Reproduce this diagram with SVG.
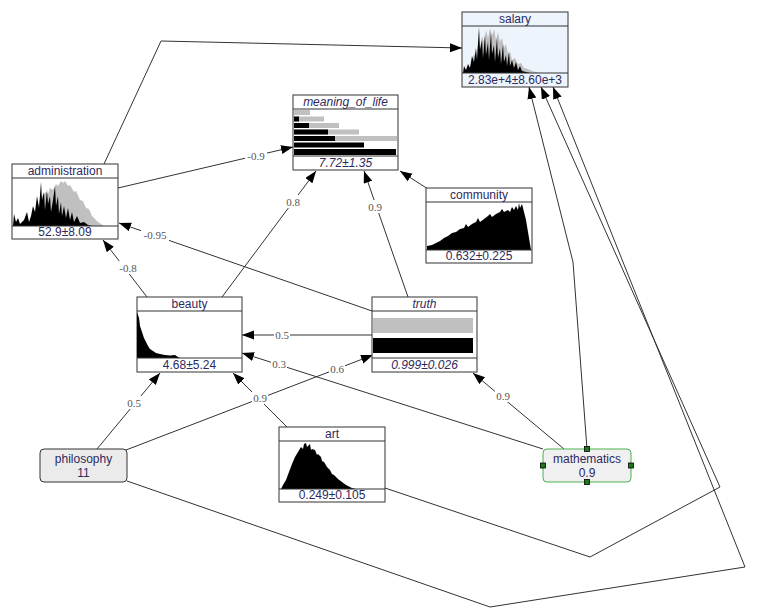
<svg xmlns="http://www.w3.org/2000/svg" width="768" height="608" viewBox="0 0 768 608">
<defs>
<marker id="arr" markerWidth="12" markerHeight="10" refX="12" refY="4.5" orient="auto" markerUnits="userSpaceOnUse">
<path d="M0,0 L12,4.5 L0,9 Z" fill="#000"/>
</marker>
<style>
.box{fill:#fff;stroke:#333;stroke-width:1}
.sep{stroke:#333;stroke-width:1}
.t{font-family:"Liberation Sans",Arial,sans-serif;font-size:12px;fill:#2e2a5c;text-anchor:middle}
.it{font-style:italic}
.e{fill:none;stroke:#333;stroke-width:1;marker-end:url(#arr)}
.el{font-family:"Liberation Serif","Times New Roman",serif;font-size:11px;fill:#555;text-anchor:middle}
.lb{fill:#fff}
.blk{fill:#000}
.gry{fill:#c0c0c0}
.h{fill:#1a7a1a;stroke:#000;stroke-width:0.8}
</style>
</defs>
<rect width="768" height="608" fill="#fff"/>
<g id="connectors">
<path class="e" d="M104,164 L161,41 L462,48"/>
<path class="e" d="M118,188 L293,147"/>
<path class="e" d="M372,311 L119,223"/>
<path class="e" d="M147,297 L103,240"/>
<path class="e" d="M222,297 L316,171"/>
<path class="e" d="M408,297 L364,171"/>
<path class="e" d="M428,189 L400,171"/>
<path class="e" d="M372,335 L242,335"/>
<path class="e" d="M543,449 L242,353"/>
<path class="e" d="M126,450 L373,355"/>
<path class="e" d="M97,449 L160,373"/>
<path class="e" d="M287,427 L233,373"/>
<path class="e" d="M564,449 L473,373"/>
<path class="e" d="M587,449 L573,262 L529,87"/>
<path class="e" d="M385,488 L590,557 L720,487 L541,87"/>
<path class="e" d="M127,481 L490,607 L745,567 L553,87"/>
<g>
<rect class="lb" x="245" y="149" width="22" height="13"/><text class="el" x="256" y="160">-0.9</text>
<rect class="lb" x="141" y="228" width="28" height="13"/><text class="el" x="155" y="239">-0.95</text>
<rect class="lb" x="117" y="261" width="22" height="13"/><text class="el" x="128" y="272">-0.8</text>
<rect class="lb" x="285" y="195" width="16" height="13"/><text class="el" x="293" y="206">0.8</text>
<rect class="lb" x="367" y="200" width="16" height="13"/><text class="el" x="375" y="211">0.9</text>
<rect class="lb" x="274" y="328" width="16" height="13"/><text class="el" x="282" y="339">0.5</text>
<rect class="lb" x="271" y="358" width="16" height="13"/><text class="el" x="279" y="368">0.3</text>
<rect class="lb" x="329" y="362" width="16" height="13"/><text class="el" x="337" y="373">0.6</text>
<rect class="lb" x="126" y="396" width="16" height="13"/><text class="el" x="134" y="407">0.5</text>
<rect class="lb" x="252" y="391" width="16" height="13"/><text class="el" x="260" y="402">0.9</text>
<rect class="lb" x="495" y="389" width="16" height="13"/><text class="el" x="503" y="400">0.9</text>
</g>
</g>
<g id="salary">
<rect x="462" y="12" width="106" height="75" fill="#edf4fc" stroke="#333"/>
<line class="sep" x1="462" y1="26" x2="568" y2="26"/>
<path class="gry" d="M463,73 L468,70 L472,62 L474,54 L476,58 L478,44 L480,48 L482,36 L484,42 L486,30 L488,38 L490,28 L492,36 L494,29 L496,40 L498,32 L500,42 L502,38 L504,48 L506,44 L508,54 L510,52 L512,60 L515,58 L518,64 L521,63 L524,68 L528,69 L532,71 L540,73 Z"/>
<path class="blk" d="M463,73 L464,66 L466,70 L468,64 L470,68 L472,56 L474,62 L476,48 L477,60 L479,27 L480,50 L482,40 L483,58 L485,35 L486,55 L488,42 L489,60 L491,32 L492,54 L494,45 L495,62 L497,38 L498,58 L500,48 L501,64 L503,44 L504,62 L506,55 L507,66 L509,52 L510,66 L512,60 L514,68 L516,62 L518,70 L520,66 L522,71 L526,72 L530,73 Z"/>
<line class="sep" x1="462" y1="73" x2="568" y2="73"/>
<text class="t" x="515" y="23">salary</text>
<text class="t" x="515" y="84">2.83e+4±8.60e+3</text>
</g>
<g id="meaning_of_life">
<rect class="box" x="293" y="95" width="105" height="75"/>
<line class="sep" x1="293" y1="109" x2="398" y2="109"/>
<rect class="gry" x="294" y="110" width="16" height="5"/>
<rect class="gry" x="294" y="116.5" width="30" height="5"/>
<rect class="blk" x="294" y="116.5" width="5" height="5"/>
<rect class="gry" x="294" y="123" width="45" height="5"/>
<rect class="blk" x="294" y="123" width="15" height="5"/>
<rect class="gry" x="294" y="129.5" width="65" height="5"/>
<rect class="blk" x="294" y="129.5" width="34" height="5"/>
<rect class="gry" x="294" y="136" width="103" height="5"/>
<rect class="blk" x="294" y="136" width="41" height="5"/>
<rect class="blk" x="294" y="142.5" width="70" height="5"/>
<rect class="blk" x="294" y="149" width="102" height="6"/>
<line class="sep" x1="293" y1="156" x2="398" y2="156"/>
<text class="t it" x="345.5" y="106">meaning_of_life</text>
<text class="t it" x="345.5" y="167">7.72±1.35</text>
</g>
<g id="administration">
<rect class="box" x="12" y="164" width="106" height="75"/>
<line class="sep" x1="12" y1="178" x2="118" y2="178"/>
<path class="gry" d="M13,226 L30,224 L36,210 L42,196 L46,192 L48,194 L50,188 L53,190 L56,184 L58,186 L61,181 L63,183 L65,181 L68,186 L70,185 L74,192 L76,191 L80,200 L83,201 L86,208 L89,209 L92,216 L98,222 L104,226 Z"/>
<path class="blk" d="M13,226 L14,214 L16,222 L18,218 L20,224 L24,220 L27,212 L29,222 L31,216 L33,206 L35,212 L37,196 L39,208 L41,182 L42,200 L44,192 L45,210 L47,190 L48,204 L50,196 L51,212 L53,200 L55,186 L56,206 L58,196 L59,214 L61,202 L62,216 L64,206 L66,218 L68,208 L70,220 L72,212 L74,222 L77,216 L80,223 L84,222 L88,225 L92,226 Z"/>
<line class="sep" x1="12" y1="226" x2="118" y2="226"/>
<text class="t" x="65" y="175">administration</text>
<text class="t" x="65" y="236">52.9±8.09</text>
</g>
<g id="community">
<rect class="box" x="426" y="188" width="106" height="75"/>
<line class="sep" x1="426" y1="202" x2="532" y2="202"/>
<path class="blk" d="M427,250 L427,246 L432,245 L436,243 L440,241 L444,238 L448,236 L452,233 L456,232 L460,229 L464,228 L466,224 L468,227 L472,224 L476,222 L478,218 L480,222 L484,219 L488,216 L490,214 L492,217 L496,214 L500,212 L502,209 L504,212 L508,210 L510,212 L512,207 L514,210 L516,206 L518,210 L519,203 L520,208 L522,204 L524,212 L526,220 L528,232 L530,244 L531,250 Z"/>
<line class="sep" x1="426" y1="250" x2="532" y2="250"/>
<text class="t" x="479" y="199">community</text>
<text class="t" x="479" y="260">0.632±0.225</text>
</g>
<g id="beauty">
<rect class="box" x="137" y="297" width="105" height="75"/>
<line class="sep" x1="137" y1="311" x2="242" y2="311"/>
<path class="blk" d="M137,358 L137,312 L139,318 L140,326 L142,332 L144,338 L146,342 L148,346 L150,349 L153,351 L156,353 L160,354 L165,355 L170,355.5 L175,355 L178,357 L180,358 Z"/>
<line class="sep" x1="137" y1="358" x2="242" y2="358"/>
<text class="t" x="189.5" y="308">beauty</text>
<text class="t" x="189.5" y="369">4.68±5.24</text>
</g>
<g id="truth">
<rect class="box" x="372" y="297" width="105" height="75"/>
<line class="sep" x1="372" y1="311" x2="477" y2="311"/>
<rect class="gry" x="373" y="318" width="100" height="15"/>
<rect class="blk" x="373" y="338" width="100" height="15"/>
<line class="sep" x1="372" y1="358" x2="477" y2="358"/>
<text class="t it" x="424.5" y="308">truth</text>
<text class="t it" x="424.5" y="369">0.999±0.026</text>
</g>
<g id="art">
<rect class="box" x="279" y="427" width="106" height="75"/>
<line class="sep" x1="279" y1="441" x2="385" y2="441"/>
<path class="blk" d="M281,489 L283,485 L286,480 L289,472 L292,464 L295,457 L298,452 L301,447 L303,449 L304,444 L306,443 L307,447 L308,446 L310,444 L311,450 L312,449 L315,450 L317,455 L318,454 L321,457 L322,461 L324,462 L327,467 L330,470 L332,474 L334,475 L338,479 L342,482 L346,485 L352,488 L356,489 Z"/>
<line class="sep" x1="279" y1="489" x2="385" y2="489"/>
<text class="t" x="332" y="438">art</text>
<text class="t" x="332" y="499">0.249±0.105</text>
</g>
<g id="philosophy">
<rect x="40" y="449" width="87" height="33" rx="4" fill="#ebebeb" stroke="#333"/>
<text class="t" x="83.5" y="463">philosophy</text>
<text class="t" x="83.5" y="477">11</text>
</g>
<g id="mathematics">
<rect x="543" y="449" width="88" height="33" rx="4" fill="#f0f0f0" stroke="#4caf50"/>
<text class="t" x="587" y="463">mathematics</text>
<text class="t" x="587" y="477">0.9</text>
<rect class="h" x="584.5" y="446.5" width="5" height="5"/>
<rect class="h" x="584.5" y="479.5" width="5" height="5"/>
<rect class="h" x="540.5" y="463" width="5" height="5"/>
<rect class="h" x="628.5" y="463" width="5" height="5"/>
</g>
</svg>
